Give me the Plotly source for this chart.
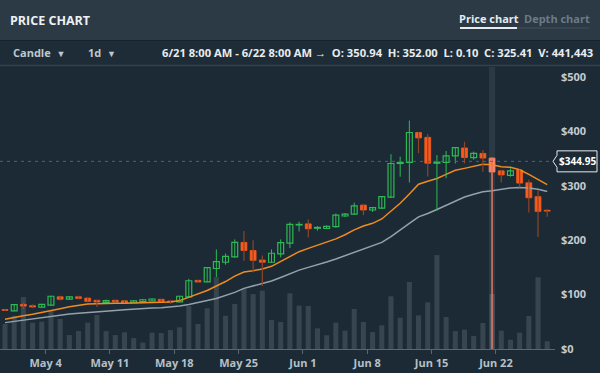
import plotly.graph_objects as go
import pandas as pd

# ---------------- data ----------------
dates = pd.date_range("2020-04-29", periods=60, freq="D")
opens = [72.5, 70, 82, 79.6, 77, 80.5, 96, 91.5, 96, 93.5,
         89.5, 85.8, 89.5, 88.6, 85, 87, 88.2, 91.3, 88.2, 86.5,
         96, 126.2, 123.5, 148, 159.5, 169.5, 196, 181, 163.5, 159.5,
         175, 194.5, 228, 230, 222, 221.5, 225, 244.5, 248, 264.5,
         255.5, 259, 279, 341, 343, 398, 389, 341.5, 343, 355,
         369.5, 351.7, 359.5, 350.94, 327.5, 319, 329, 305.5, 280, 255]
highs = [73.5, 82, 85, 82, 83, 98, 98, 97, 98, 94.5,
         90, 91, 90.5, 89.5, 89.5, 91.5, 93, 92, 89, 98,
         129, 127, 150.5, 183, 175.5, 201.5, 217, 200, 172, 183,
         201.5, 233, 234, 238, 226, 227, 249, 250, 269, 266,
         261, 281, 358, 353.5, 420, 399, 395, 356.5, 364, 371,
         381, 362.8, 366, 352.0, 328, 332, 330, 311, 292, 257]
lows = [70.5, 69.5, 73, 75, 76, 80, 89, 91, 91, 86,
        77, 85, 86, 84.5, 84.5, 86.5, 87.5, 87, 83, 86,
        95.5, 122.5, 123, 132, 155, 168, 162, 141, 116, 158.5,
        168.5, 185.7, 216, 205, 217.5, 220.5, 223, 242.5, 247.5, 246,
        252, 258, 278, 316.7, 306, 360, 317, 254, 314, 341,
        341.3, 348, 326, 0.10, 306, 316.7, 297, 251, 206, 243]
closes = [71, 81.4, 79, 77.2, 82, 97, 91.5, 96, 93, 87.6,
          86.4, 89, 86.6, 85, 88.6, 90.5, 91.9, 87.6, 86.4, 97,
          125.5, 123.2, 149.5, 160.5, 170.4, 196, 181, 163, 159.5, 176,
          195.5, 229, 229, 221, 223.5, 225.5, 246, 248, 263, 255.5,
          259.8, 280, 341, 343, 398, 388, 341.5, 343.5, 355, 370,
          352, 359.7, 351, 325.41, 320, 327.5, 305, 278, 253, 253.5]
volumes = [200700, 267000, 417000, 211000, 219000, 305000, 241000, 112000, 144000, 211000,
           273000, 144000, 112000, 134000, 88000, 51000, 131000, 128000, 152000, 174000,
           345000, 201000, 327000, 575000, 267000, 361000, 484000, 441000, 468000, 233000,
           217000, 447000, 348000, 345000, 166000, 110000, 211000, 147000, 321000, 217000,
           136000, 190000, 423000, 251000, 538000, 270000, 375000, 754000, 257000, 144000,
           155000, 104000, 209000, 441443, 147000, 75000, 131000, 265000, 575000, 62000]
ma_fast = [54.6, 58.2, 61, 63.8, 66.8, 71, 74, 77.8, 80.9, 82.7,
           83.3, 84, 84, 84, 84.5, 85.2, 85.5, 86, 86.4, 89,
           95, 100.5, 107.5, 115.8, 124, 134, 141.5, 144, 147, 152,
           160.5, 169.7, 178.9, 185, 190.6, 196, 202.5, 210, 219, 226,
           231, 239, 253, 268, 285, 303, 308.5, 313.5, 321, 328.5,
           332, 336, 339.5, 338.5, 335, 334, 329.5, 321, 311.5, 302]
ma_slow = [48.5, 50.9, 52.7, 54.6, 57, 59.4, 62, 64.3, 65.8, 67.4,
           68.6, 69.9, 71, 72.3, 73.8, 75, 75.5, 76, 77, 79,
           82, 85, 89, 93, 98, 104, 111.5, 116, 119.5, 125,
           131.5, 139, 145, 150, 154.5, 160, 165.5, 171.5, 178, 183.5,
           188.7, 196, 206.5, 218, 231, 243, 249, 256.5, 264, 272,
           279.5, 284.5, 289, 291, 293.5, 296, 297, 296, 293.5, 289.5]
last_price = 344.95
hover_index = 53
tick_dates = ["2020-05-04", "2020-05-11", "2020-05-18", "2020-05-25",
              "2020-06-01", "2020-06-08", "2020-06-15", "2020-06-22"]
tick_text = ["May 4", "May 11", "May 18", "May 25", "Jun 1", "Jun 8", "Jun 15", "Jun 22"]
price_ticks = [0, 100, 200, 300, 400, 500]
price_tick_text = ["$0", "$100", "$200", "$300", "$400", "$500"]
header_title = "PRICE CHART"
info_text = "6/21 8:00 AM - 6/22 8:00 AM \u2192  O: 350.94  H: 352.00  L: 0.10  C: 325.41  V: 441,443"

# ---------------- style ----------------
W, H = 600, 373
BG = "#1c2a35"
HEADER = "#2b3a45"
TOOLBAR = "#1e2c37"
GREEN = "#2dba55"
ORANGE = "#fa5a1c"
ORANGE_WICK = "#8e4526"
HL_BODY = "#f5846a"
HL_WICK = "#e5765e"
VOL = "#37454f"
VOL_HL = "#48565f"
FONT = "Open Sans"
DAY_MS = 86400000

def px(x):
    return x / W

def py(y):
    return 1 - y / H

plot_left, plot_right, plot_top, plot_bottom = 0, 555, 67, 349
px_per_price = (349 - 77) / 500.0
price_max = (plot_bottom - plot_top) / px_per_price
vol_px = volumes[hover_index] / 55.0
vol_max = (plot_bottom - plot_top) * vol_px

xc = dates + pd.Timedelta(hours=14)
x_start = xc[0] - pd.Timedelta(days=5 / 9.19)
x_end = x_start + pd.Timedelta(days=(plot_right - plot_left) / 9.19)

fig = go.Figure()

# volume bars (main y axis, drawn beneath)
vol_colors = [VOL_HL if i == hover_index else VOL for i in range(len(volumes))]
fig.add_trace(go.Bar(x=xc, y=volumes, width=[0.55 * DAY_MS] * len(volumes),
                     marker=dict(color=vol_colors, line=dict(width=0)),
                     yaxis="y", hoverinfo="skip", showlegend=False))

# moving averages
fig.add_trace(go.Scatter(x=xc, y=ma_slow, mode="lines", yaxis="y2",
                         line=dict(color="#95a1ad", width=1.5), hoverinfo="skip", showlegend=False))
fig.add_trace(go.Scatter(x=xc, y=ma_fast, mode="lines", yaxis="y2",
                         line=dict(color="#f08c1e", width=1.5), hoverinfo="skip", showlegend=False))

# wicks
def wick_xy(idx):
    xs, ys = [], []
    for i in idx:
        xs += [xc[i], xc[i], None]
        ys += [lows[i], highs[i], None]
    return xs, ys

n = len(opens)
up = [i for i in range(n) if closes[i] >= opens[i] and i != hover_index]
dn = [i for i in range(n) if closes[i] < opens[i] and i != hover_index]

for idx, col, w in [(up, GREEN, 1), (dn, ORANGE_WICK, 1.2), ([hover_index], HL_WICK, 1.5)]:
    wx, wy = wick_xy(idx)
    fig.add_trace(go.Scatter(x=wx, y=wy, mode="lines", yaxis="y2",
                             line=dict(color=col, width=w), hoverinfo="skip", showlegend=False))

# bodies
def body(idx, fill, line_col, lw):
    base = [min(opens[i], closes[i]) for i in idx]
    hgt = [max(abs(closes[i] - opens[i]), 0.6) for i in idx]
    return go.Bar(x=[xc[i] for i in idx], y=hgt, base=base,
                  width=[0.64 * DAY_MS] * len(idx), yaxis="y2",
                  marker=dict(color=fill, line=dict(color=line_col, width=lw)),
                  hoverinfo="skip", showlegend=False)

fig.add_trace(body(up, BG, GREEN, 1.2))
fig.add_trace(body(dn, ORANGE, ORANGE, 0.8))
fig.add_trace(body([hover_index], HL_BODY, HL_BODY, 0.8))

shapes = [
    # header + toolbar backgrounds
    dict(type="rect", xref="paper", yref="paper", x0=0, x1=1, y0=py(40), y1=1,
         fillcolor=HEADER, line=dict(width=0), layer="below"),
    dict(type="rect", xref="paper", yref="paper", x0=0, x1=1, y0=py(65), y1=py(40),
         fillcolor=TOOLBAR, line=dict(width=0), layer="below"),
    dict(type="line", xref="paper", yref="paper", x0=0, x1=1, y0=py(40.5), y1=py(40.5),
         line=dict(color="#17232c", width=1), layer="below"),
    dict(type="line", xref="paper", yref="paper", x0=0, x1=1, y0=py(65.5), y1=py(65.5),
         line=dict(color="#34424d", width=1.5), layer="below"),
    # tab underline
    dict(type="line", xref="paper", yref="paper", x0=px(460), x1=px(517), y0=py(28), y1=py(28),
         line=dict(color="#e8ecef", width=2)),
    dict(type="line", xref="paper", yref="paper", x0=px(517), x1=px(589), y0=py(28), y1=py(28),
         line=dict(color="#3c4a55", width=1.5)),
    # hover band
    dict(type="rect", xref="x", yref="paper",
         x0=xc[hover_index] - pd.Timedelta(hours=8), x1=xc[hover_index] + pd.Timedelta(hours=8),
         y0=py(plot_bottom), y1=py(plot_top), fillcolor="#2b3944", line=dict(width=0), layer="below"),
    # last price dashed line
    dict(type="line", xref="paper", yref="y2", x0=0, x1=px(plot_right), y0=last_price, y1=last_price,
         line=dict(color="#56646f", width=1, dash="3px,4px")),
    # last price label box with arrow
    dict(type="path", xref="paper", yref="y2", xsizemode="pixel", ysizemode="pixel",
         xanchor=px(plot_right), yanchor=last_price,
         path="M -2,0 L 2,6 L 2,10.5 L 42,10.5 L 42,-10.5 L 2,-10.5 L 2,-6 Z",
         fillcolor=BG, line=dict(color="#e6eaed", width=1)),
]

annotations = [
    dict(text="<b>" + header_title + "</b>", x=px(8), y=py(20), xref="paper", yref="paper",
         xanchor="left", yanchor="middle", showarrow=False,
         font=dict(family=FONT, size=12.5, color="#eef1f3")),
    dict(text="<b>Price chart</b>", x=px(488.5), y=py(18), xref="paper", yref="paper",
         xanchor="center", yanchor="middle", showarrow=False,
         font=dict(family=FONT, size=11, color="#e6eaed")),
    dict(text="<b>Depth chart</b>", x=px(557), y=py(18), xref="paper", yref="paper",
         xanchor="center", yanchor="middle", showarrow=False,
         font=dict(family=FONT, size=11, color="#6c7b86")),
    dict(text="<b>Candle</b>  <span style='font-size:9px'>\u25bc</span>", x=px(11), y=py(53), xref="paper", yref="paper",
         xanchor="left", yanchor="middle", showarrow=False,
         font=dict(family=FONT, size=11, color="#bfc7cd")),
    dict(text="<b>1d</b>  <span style='font-size:9px'>\u25bc</span>", x=px(86), y=py(53), xref="paper", yref="paper",
         xanchor="left", yanchor="middle", showarrow=False,
         font=dict(family=FONT, size=11, color="#bfc7cd")),
    dict(text="<b>" + info_text + "</b>", x=px(595), y=py(53), xref="paper", yref="paper",
         xanchor="right", yanchor="middle", showarrow=False,
         font=dict(family=FONT, size=11.2, color="#e8ecef")),
    dict(text="<b>$%.2f</b>" % last_price, x=px(577.5), y=last_price, xref="paper", yref="y2",
         xanchor="center", yanchor="middle", showarrow=False,
         font=dict(family=FONT, size=10, color="#ffffff")),
]

fig.update_layout(
    width=W, height=H, margin=dict(l=0, r=0, t=0, b=0, autoexpand=False),
    paper_bgcolor=BG, plot_bgcolor=BG, barmode="overlay", showlegend=False,
    font=dict(family=FONT),
    xaxis=dict(type="date", domain=[px(plot_left), px(plot_right)], range=[x_start, x_end],
               tickvals=tick_dates, ticktext=tick_text, showgrid=False, zeroline=False,
               showline=True, linecolor="#5a6771", linewidth=1, ticks="outside", ticklen=4,
               tickcolor="#5a6771", tickfont=dict(family=FONT, size=11, color="#b7c0c6", weight="bold"),
               anchor="y", automargin=False),
    yaxis=dict(domain=[py(plot_bottom), py(plot_top)], range=[0, vol_max], visible=False,
               showgrid=False, zeroline=False, automargin=False),
    yaxis2=dict(overlaying="y", side="right", range=[0, price_max], tickvals=price_ticks,
                ticktext=price_tick_text, showgrid=False, zeroline=False, showline=False, ticks="",
                ticklabelstandoff=5, anchor="x", automargin=False,
                tickfont=dict(family=FONT, size=11, color="#c3cad0", weight="bold")),
    shapes=shapes, annotations=annotations,
)

fig.write_html("out.html", config={"displayModeBar": False},
               post_script="document.body.style.margin='0';document.body.style.overflow='hidden';")
